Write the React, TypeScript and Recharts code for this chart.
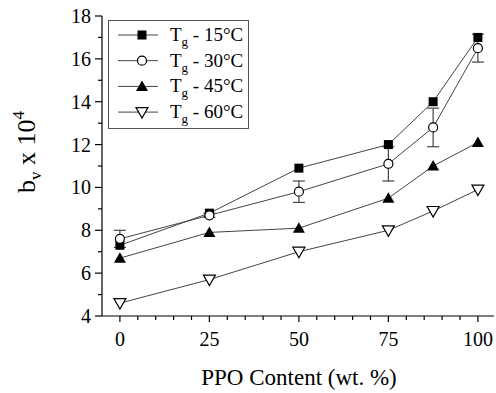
import { ComposedChart, Line, XAxis, YAxis, ErrorBar } from 'recharts';

const ppoContent = [0, 25, 50, 75, 87.5, 100];
const tg15 = [7.3, 8.8, 10.9, 12.0, 14.0, 17.0];
const tg30 = [7.6, 8.7, 9.8, 11.1, 12.8, 16.5];
const tg30Err = [0.4, 0.1, 0.5, 0.8, 0.9, 0.65];
const tg45 = [6.7, 7.9, 8.1, 9.5, 11.0, 12.1];
const tg60 = [4.6, 5.7, 7.0, 8.0, 8.9, 9.9];

const xTicks = [0, 5, 10, 15, 20, 25, 30, 35, 40, 45, 50, 55, 60, 65, 70, 75, 80, 85, 90, 95, 100];
const xLabels = [0, 25, 50, 75, 100];
const yTicks = [4, 5, 6, 7, 8, 9, 10, 11, 12, 13, 14, 15, 16, 17, 18];
const yLabels = [4, 6, 8, 10, 12, 14, 16, 18];

const legendItems = [
  { name: '15°C', shape: 'square' },
  { name: '30°C', shape: 'circle' },
  { name: '45°C', shape: 'up' },
  { name: '60°C', shape: 'down' },
];

const data = ppoContent.map((p, i) => ({
  ppo: p,
  tg15: tg15[i],
  tg30: tg30[i],
  tg30Err: tg30Err[i],
  tg45: tg45[i],
  tg60: tg60[i],
}));

const FONT = "'Liberation Serif', 'Times New Roman', Tinos, 'DejaVu Serif', serif";
const serif = { fontFamily: FONT };

function Marker({ shape, cx, cy }: { shape: string; cx: number; cy: number }) {
  if (shape === 'square') {
    return <rect x={cx - 4.5} y={cy - 4.5} width={9} height={9} fill="#000" />;
  }
  if (shape === 'circle') {
    return <circle cx={cx} cy={cy} r={4.5} fill="#fff" stroke="#000" strokeWidth={1.2} />;
  }
  if (shape === 'up') {
    return <polygon points={`${cx},${cy - 6} ${cx - 6},${cy + 4.5} ${cx + 6},${cy + 4.5}`} fill="#000" />;
  }
  return (
    <polygon
      points={`${cx - 6},${cy - 4.5} ${cx + 6},${cy - 4.5} ${cx},${cy + 6}`}
      fill="#fff"
      stroke="#000"
      strokeWidth={1.2}
    />
  );
}

const dotFor = (shape: string) => (props: any) => (
  <Marker key={`${shape}-${props.index}`} shape={shape} cx={props.cx} cy={props.cy} />
);

function XTick(props: any) {
  const { x, y, payload } = props;
  const major = xLabels.includes(payload.value);
  return (
    <g>
      <line x1={x} y1={y} x2={x} y2={y + (major ? 6 : 4)} stroke="#000" strokeWidth={1.2} />
      {major && (
        <text x={x} y={y + 30} textAnchor="middle" style={serif} fontSize={20} fill="#000">
          {payload.value}
        </text>
      )}
    </g>
  );
}

function YTick(props: any) {
  const { x, y, payload } = props;
  const major = yLabels.includes(payload.value);
  return (
    <g>
      <line x1={x} y1={y} x2={x - (major ? 7 : 4)} y2={y} stroke="#000" strokeWidth={1.2} />
      {major && (
        <text x={x - 11} y={y + 7} textAnchor="end" style={serif} fontSize={20} fill="#000">
          {payload.value}
        </text>
      )}
    </g>
  );
}

function YAxisTitle() {
  return (
    <text transform="translate(35,152) rotate(-90)" textAnchor="middle" style={serif} fontSize={26} fill="#000">
      b
      <tspan fontSize={17} dy={6}>v</tspan>
      <tspan dy={-6}> x 10</tspan>
      <tspan fontSize={17} dy={-11}>4</tspan>
    </text>
  );
}

function XAxisTitle() {
  return (
    <text x={299} y={385} textAnchor="middle" style={serif} fontSize={23} fill="#000">
      PPO Content (wt. %)
    </text>
  );
}

function LegendBox() {
  return (
    <svg width={141} height={109} style={{ position: 'absolute', left: 108, top: 20 }}>
      <rect x={0.5} y={0.5} width={140} height={108} fill="#fff" stroke="#555" strokeWidth={1} />
      {legendItems.map((item, i) => {
        const cy = 15 + i * 25.7;
        return (
          <g key={item.name}>
            <line x1={10} y1={cy} x2={50} y2={cy} stroke="#444" strokeWidth={1} />
            <Marker shape={item.shape} cx={34} cy={cy} />
            <text x={62} y={cy + 6} style={serif} fontSize={19} fill="#000">
              T<tspan fontSize={13} dy={5}>g</tspan>
              <tspan dy={-5}> - {item.name}</tspan>
            </text>
          </g>
        );
      })}
    </svg>
  );
}

export default function App() {
  return (
    <div style={{ position: 'relative', width: 496, height: 393, fontFamily: FONT }}>
      <style>{'html, body { margin: 0; overflow: hidden; background: #fff; }'}</style>
      <ComposedChart width={496} height={393} data={data} margin={{ top: 16, right: 2, left: 0, bottom: 0 }}>
        <XAxis
          dataKey="ppo"
          type="number"
          domain={[-5, 104.5]}
          ticks={xTicks}
          interval={0}
          tick={<XTick />}
          tickLine={false}
          tickSize={0}
          tickMargin={0}
          height={77}
          stroke="#000"
          strokeWidth={1.2}
          allowDataOverflow
        />
        <XAxis
          xAxisId="top"
          orientation="top"
          dataKey="ppo"
          type="number"
          domain={[-5, 104.5]}
          tick={false}
          tickLine={false}
          height={0}
          stroke="#000"
          strokeWidth={1.2}
          allowDataOverflow
        />
        <YAxis
          type="number"
          domain={[4, 18]}
          ticks={yTicks}
          interval={0}
          tick={<YTick />}
          tickLine={false}
          tickSize={0}
          tickMargin={0}
          width={102}
          stroke="#000"
          strokeWidth={1.2}
          allowDataOverflow
        />
        <YAxis
          yAxisId="right"
          orientation="right"
          type="number"
          domain={[4, 18]}
          tick={false}
          tickLine={false}
          width={0}
          stroke="#000"
          strokeWidth={1.2}
        />
        <Line dataKey="tg60" stroke="#444" strokeWidth={1} dot={dotFor('down')} isAnimationActive={false} />
        <Line dataKey="tg45" stroke="#444" strokeWidth={1} dot={dotFor('up')} isAnimationActive={false} />
        <Line dataKey="tg15" stroke="#444" strokeWidth={1} dot={dotFor('square')} isAnimationActive={false} />
        <Line dataKey="tg30" stroke="#444" strokeWidth={1} dot={dotFor('circle')} isAnimationActive={false}>
          <ErrorBar dataKey="tg30Err" width={6} stroke="#444" strokeWidth={1.2} direction="y" />
        </Line>
        <YAxisTitle />
        <XAxisTitle />
      </ComposedChart>
      <LegendBox />
    </div>
  );
}
